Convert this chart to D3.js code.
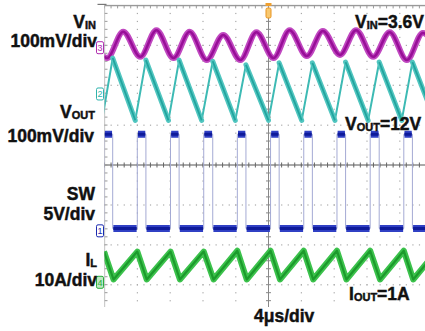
<!DOCTYPE html>
<html>
<head>
<meta charset="utf-8">
<script src="https://cdn.jsdelivr.net/npm/d3@7"></script>
<style>
  body { margin: 0; background: #fff; }
  svg { display: block; }
  .lbl { font-family: "Liberation Sans", Arial, sans-serif; font-weight: bold; fill: #111; stroke: #111; stroke-width: 0.45px; }
</style>
</head>
<body>
<svg id="scope"></svg>
<script>
// time in µs (4 µs/div), amplitude in screen divisions (centre line = 0)
const swRise = [-0.05, 4.0, 8.05, 12.1, 16.2, 20.25, 24.3, 28.35, 32.4, 36.5, 40.55];
const swFall = [1.0, 5.05, 9.1, 13.2, 17.25, 21.3, 25.35, 29.4, 33.5, 37.55];
const swHigh = 0.77;
const swLow = -1.59;

const vinTime = [-1.78, 0.32, 2.28, 4.37, 6.33, 8.42, 10.38, 12.47, 14.48, 16.57, 18.53,
                 20.62, 22.58, 24.67, 26.63, 28.72, 30.68, 32.77, 34.78, 36.87, 38.83, 40.92];
const vinDiv  = [3.30, 2.68, 3.34, 2.71, 3.38, 2.68, 3.34, 2.63, 3.26, 2.63, 3.33,
                 2.68, 3.38, 2.73, 3.36, 2.76, 3.38, 2.71, 3.33, 2.63, 3.31, 2.66];

const voutTime = [-0.3, 1.0, 3.75, 5.05, 7.8, 9.1, 11.85, 13.2, 15.95, 17.25, 20.0,
                  21.3, 24.05, 25.35, 28.1, 29.4, 32.15, 33.5, 36.25, 37.55, 40.3];
const voutDiv  = [1.12, 2.68, 1.12, 2.63, 1.12, 2.63, 1.12, 2.60, 1.12, 2.51, 1.12,
                  2.56, 1.12, 2.56, 1.12, 2.58, 1.12, 2.58, 1.12, 2.58, 1.12];

const ilTime = [-0.06, 1.1, 4.0, 5.15, 8.05, 9.2, 12.1, 13.3, 16.2, 17.35, 20.25,
                21.4, 24.3, 25.45, 28.35, 29.5, 32.4, 33.6, 36.5, 37.65, 40.55];
const ilDiv  = [-2.17, -2.87, -2.17, -2.87, -2.17, -2.87, -2.17, -2.87, -2.15, -2.87, -2.15,
                -2.87, -2.15, -2.87, -2.15, -2.87, -2.15, -2.87, -2.15, -2.87, -2.15];

// channel markers (number, level in div)
const markerCh = ["3", "2", "1", "4"];
const markerDiv = [2.94, 1.78, -1.65, -2.94];

const W = 425, H = 331;
const screenBottom = 307;

const svg = d3.select("#scope").attr("width", W).attr("height", H);
svg.append("rect").attr("width", W).attr("height", H).attr("fill", "#fff");

const x = d3.scaleLinear().domain([0, 40]).range([104.5, 432.5]);
const y = d3.scaleLinear().domain([-4, 4]).range([324.6, 5.4]);

svg.append("clipPath").attr("id", "screen")
  .append("rect")
    .attr("x", x(0)).attr("y", y(4) - 1)
    .attr("width", W - x(0)).attr("height", screenBottom - y(4) + 1);

const grid = svg.append("g").attr("clip-path", "url(#screen)");

// dotted graticule
const minorT = d3.range(0, 40.01, 0.8);
const minorV = d3.range(-4, 4.01, 0.2);
const majorT = d3.range(4, 40, 4).filter(t => t !== 20);
const majorV = d3.range(-3, 4, 1).filter(v => v !== 0);

majorT.forEach(t => {
  grid.selectAll(null).data(minorV).enter().append("rect")
    .attr("x", x(t) - 0.5).attr("y", d => y(d) - 0.5)
    .attr("width", 1.2).attr("height", 1.2).attr("fill", "#aaa");
});
majorV.forEach(v => {
  grid.selectAll(null).data(minorT).enter().append("rect")
    .attr("x", d => x(d) - 0.5).attr("y", y(v) - 0.5)
    .attr("width", 1.2).attr("height", 1.2).attr("fill", "#aaa");
});

// centre cross lines with ticks
grid.append("line").attr("x1", x(0)).attr("x2", W).attr("y1", y(0)).attr("y2", y(0))
  .attr("stroke", "#555").attr("stroke-width", 1);
grid.selectAll(null).data(minorT).enter().append("line")
  .attr("x1", d => x(d)).attr("x2", d => x(d))
  .attr("y1", y(0) - 2.5).attr("y2", y(0) + 2.5)
  .attr("stroke", "#666").attr("stroke-width", 1);

grid.append("line").attr("x1", x(20)).attr("x2", x(20)).attr("y1", y(4)).attr("y2", screenBottom)
  .attr("stroke", "#888").attr("stroke-width", 1);
grid.selectAll(null).data(minorV).enter().append("line")
  .attr("x1", x(20) - 2.5).attr("x2", x(20) + 2.5)
  .attr("y1", d => y(d)).attr("y2", d => y(d))
  .attr("stroke", "#888").attr("stroke-width", 1);

// border (left and top)
grid.append("line").attr("x1", x(0)).attr("x2", x(0)).attr("y1", y(4)).attr("y2", screenBottom)
  .attr("stroke", "#999").attr("stroke-width", 1.2);
grid.selectAll(null).data(minorV).enter().append("line")
  .attr("x1", x(0)).attr("x2", x(0) + 3)
  .attr("y1", d => y(d)).attr("y2", d => y(d))
  .attr("stroke", "#999").attr("stroke-width", 1);
grid.append("line").attr("x1", x(0)).attr("x2", W).attr("y1", y(4)).attr("y2", y(4))
  .attr("stroke", "#999").attr("stroke-width", 1.5);
grid.selectAll(null).data(minorT).enter().append("line")
  .attr("x1", d => x(d)).attr("x2", d => x(d))
  .attr("y1", y(4)).attr("y2", y(4) + 3)
  .attr("stroke", "#999").attr("stroke-width", 1);
svg.append("line").attr("x1", x(0) - 7).attr("x2", x(0) + 2).attr("y1", y(4) - 1).attr("y2", y(4) - 1)
  .attr("stroke", "#777").attr("stroke-width", 1.2);

// traces
const traces = svg.append("g").attr("clip-path", "url(#screen)");
const lineXY = d3.line().x(d => x(d[0])).y(d => y(d[1]));

// SW (ch1)
const swPts = [];
swRise.forEach((r, i) => {
  swPts.push([r, swLow], [r, swHigh]);
  if (swFall[i] !== undefined) swPts.push([swFall[i], swHigh], [swFall[i], swLow]);
});
traces.append("path").attr("d", lineXY(swPts))
  .attr("fill", "none").attr("stroke", "#a4aad4").attr("stroke-width", 1);

const swSegs = [];
swRise.forEach((r, i) => {
  if (swFall[i] !== undefined) swSegs.push([[r, swHigh], [swFall[i], swHigh]]);
  if (swRise[i + 1] !== undefined && swFall[i] !== undefined) swSegs.push([[swFall[i], swLow], [swRise[i + 1], swLow]]);
});
[["#3040c4", 7], ["#0e1a9a", 3]].forEach(([c, w]) => {
  traces.selectAll(null).data(swSegs).enter().append("path")
    .attr("d", d => lineXY([[d[0][0] + 0.08, d[0][1]], [d[1][0] - 0.08, d[1][1]]]))
    .attr("stroke", c).attr("stroke-width", w).attr("fill", "none");
});

// VIN (ch3)
const vinLine = d3.line().x((d, i) => x(vinTime[i])).y(d => y(d)).curve(d3.curveMonotoneX);
traces.append("path").attr("d", vinLine(vinDiv))
  .attr("fill", "none").attr("stroke", "#c048c0").attr("stroke-width", 6);
traces.append("path").attr("d", vinLine(vinDiv))
  .attr("fill", "none").attr("stroke", "#980f98").attr("stroke-width", 2.5);

// VOUT (ch2): thin fast rise, thick slow ramp down
const voutPts = voutTime.map((t, i) => [t, voutDiv[i]]);
traces.append("path").attr("d", lineXY(voutPts))
  .attr("fill", "none").attr("stroke", "#3dbab4").attr("stroke-width", 2).attr("stroke-linejoin", "round");
const voutRamps = [];
for (let i = 1; i < voutPts.length - 1; i += 2) voutRamps.push([voutPts[i], voutPts[i + 1]]);
[["#52c6c0", 5, "round"], ["#22a49e", 1.8, "butt"]].forEach(([c, w, cap]) => {
  traces.selectAll(null).data(voutRamps).enter().append("path")
    .attr("d", d => lineXY(d))
    .attr("fill", "none").attr("stroke", c).attr("stroke-width", w).attr("stroke-linecap", cap);
});

// IL (ch4)
const ilLine = d3.line().x((d, i) => x(ilTime[i])).y(d => y(d));
traces.append("path").attr("d", ilLine(ilDiv))
  .attr("fill", "none").attr("stroke", "#3cc24c").attr("stroke-width", 6).attr("stroke-linejoin", "round");
traces.append("path").attr("d", ilLine(ilDiv))
  .attr("fill", "none").attr("stroke", "#1c9a2c").attr("stroke-width", 2.2).attr("stroke-linejoin", "round");

// channel markers
const markColor = {"1": "#1a2ab0", "2": "#2eb3ad", "3": "#b02cb0", "4": "#2aae3c"};
const mk = svg.selectAll(".mk").data(markerCh).enter().append("g")
  .attr("transform", (d, i) => `translate(${x(0) - 8},${y(markerDiv[i]) - 6})`);
mk.append("rect").attr("width", 7).attr("height", 12).attr("rx", 1.5)
  .attr("fill", d => d === "4" ? "#bfe8c4" : "#fff")
  .attr("stroke", d => markColor[d]).attr("stroke-width", 1);
mk.append("text").attr("x", 3.5).attr("y", 9.5).attr("text-anchor", "middle")
  .attr("font-family", "Liberation Sans, Arial, sans-serif").attr("font-size", 9)
  .attr("fill", d => markColor[d]).text(d => d);

// trigger marker
const trig = svg.append("g").attr("transform", `translate(${x(20)},0)`);
trig.append("rect").attr("x", -3).attr("y", 3).attr("width", 6).attr("height", 3).attr("fill", "#f0a030");
trig.append("rect").attr("x", -2.5).attr("y", 8).attr("width", 5).attr("height", 10).attr("rx", 1.5)
  .attr("fill", "#f8c870").attr("stroke", "#e89420").attr("stroke-width", 1);

// labels
function label(xp, yp, parts, anchor) {
  const t = svg.append("text").attr("class", "lbl").attr("x", xp).attr("y", yp)
    .attr("text-anchor", anchor || "start").attr("font-size", 17.5);
  parts.forEach(p => {
    const s = t.append("tspan").text(p[0]);
    if (p[1] === "sub") s.attr("font-size", 11).attr("dy", 1);
    if (p[1] === "up") s.attr("dy", -1);
  });
}
label(96, 28, [["V"], ["IN", "sub"]], "end");
label(97, 47, [["100mV/div"]], "end");
label(95, 118, [["V"], ["OUT", "sub"]], "end");
label(94, 141.5, [["100mV/div"]], "end");
label(95, 200, [["SW"]], "end");
label(95, 220, [["5V/div"]], "end");
label(97, 266, [["I"], ["L", "sub"]], "end");
label(97, 286, [["10A/div"]], "end");
label(355, 28, [["V"], ["IN", "sub"], ["=3.6V", "up"]]);
label(345, 130, [["V"], ["OUT", "sub"], ["=12V", "up"]]);
label(349, 300, [["I"], ["OUT", "sub"], ["=1A", "up"]]);
label(254, 321.5, [["4μs/div"]]);
</script>
</body>
</html>
